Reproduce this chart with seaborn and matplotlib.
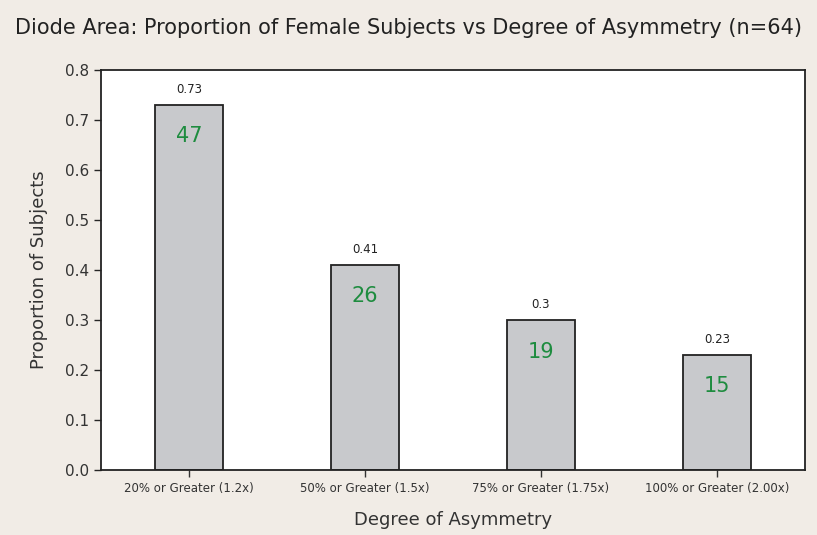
import numpy as np
import pandas as pd
import matplotlib
matplotlib.use('Agg')
import matplotlib.pyplot as plt
import seaborn as sns

# data
categories = ['20% or Greater (1.2x)', '50% or Greater (1.5x)',
              '75% or Greater (1.75x)', '100% or Greater (2.00x)']
proportions = [0.73, 0.41, 0.30, 0.23]
prop_labels = ['0.73', '0.41', '0.3', '0.23']
counts = [47, 26, 19, 15]

df = pd.DataFrame({'cat': categories, 'prop': proportions})

sns.set_theme(style='white')
plt.rcParams['font.family'] = ['DejaVu Sans']

bg = '#f1ece6'
fig = plt.figure(figsize=(8.17, 5.35), dpi=100, facecolor=bg)
ax = fig.add_axes([101/817, 1 - 470/535, 704/817, 400/535])
ax.set_facecolor('white')

sns.barplot(data=df, x='cat', y='prop', color='#c8c9cc', width=0.39,
            edgecolor='#222222', linewidth=1.3, saturation=1, ax=ax)

# value labels above bars, counts inside
for i, (p, lab, n) in enumerate(zip(proportions, prop_labels, counts)):
    ax.text(i, p + 0.018, lab, ha='center', va='bottom', fontsize=8.5, color='#222222')
    ax.text(i, p - 0.063, str(n), ha='center', va='center', fontsize=15, color='#1e8c3f')

ax.set_xlim(-0.5, 3.5)
ax.set_ylim(0, 0.8)
yt = np.arange(0, 0.81, 0.1)
ax.set_yticks(yt)
ax.set_yticklabels([f'{v:.1f}' for v in yt], fontsize=11, color='#333333')
ax.tick_params(axis='x', labelsize=8.5, colors='#333333', length=5, width=1,
               direction='out', bottom=True)
ax.tick_params(axis='y', length=5, width=1, direction='out', left=True)
for s in ax.spines.values():
    s.set_color('#222222')
    s.set_linewidth(1.3)

ax.set_xlabel('Degree of Asymmetry', fontsize=13, color='#333333', labelpad=12)
ax.set_ylabel('Proportion of Subjects', fontsize=13, color='#333333', labelpad=12)

fig.text(0.5, 1 - 28/535, 'Diode Area: Proportion of Female Subjects vs Degree of Asymmetry (n=64)',
         ha='center', va='center', fontsize=15, color='#222222')

fig.savefig('out.png', dpi=100, facecolor=bg)
